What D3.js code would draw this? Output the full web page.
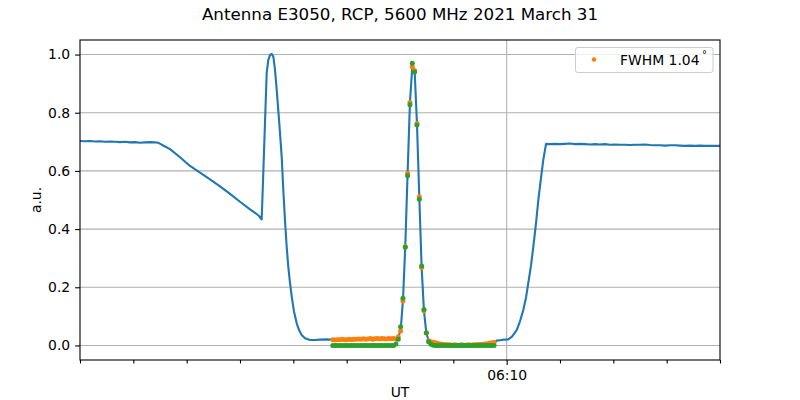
<!DOCTYPE html>
<html><head><meta charset="utf-8">
<script src="https://cdn.jsdelivr.net/npm/d3@7"></script>
<style>body{margin:0;background:#fff} text{font-family:"DejaVu Sans",sans-serif;fill:#000}</style>
</head><body><svg id="c" width="800" height="400"></svg>
<script>
const title = "Antenna E3050, RCP, 5600 MHz 2021 March 31";
const legendLabel = "FWHM 1.04";
const legendSup = "°";
const xLabel = "UT", yLabel = "a.u.";
const xDomain = ["06:02:00", "06:14:00"];
const yDomain = [-0.05, 1.05];
const yTicks = [0, 0.2, 0.4, 0.6, 0.8, 1.0];
const xMajorTicks = ["06:10:00"];
const xMinorTicks = ["06:02:00","06:03:00","06:04:00","06:05:00","06:06:00","06:07:00","06:08:00",
  "06:09:00","06:11:00","06:12:00","06:13:00","06:14:00"];

// blue line before the fitted window (seconds after 06:00:00, value)
const preT = [120,125.6,131.3,136.9,142.5,148.1,153.8,159.4,165,170.6,176.3,181.9,187.5,193.1,198.8,204.4,207.8,
  215.6,221.3,232.5,243.8,255,266.3,277.5,288.8,300,311.3,316.9,321.4,324.4,326.2,330,331.8,333.8,335.7,337.5,
  339.4,341.3,344.2,346.9,348.7,350.6,352.5,354.3,356.3,358.2,360.8,363.8,366.4,369.4,373.1,378.8,384.4,390,397.5,401.3];
const preV = [0.703,0.702,0.703,0.701,0.702,0.700,0.701,0.700,0.699,0.700,0.698,0.699,0.697,0.698,0.699,0.698,0.697,
  0.684,0.675,0.647,0.617,0.594,0.571,0.547,0.521,0.494,0.468,0.456,0.445,0.433,0.592,0.936,0.981,0.999,1.002,0.993,
  0.947,0.878,0.764,0.649,0.535,0.431,0.340,0.271,0.214,0.168,0.116,0.076,0.053,0.036,0.025,0.019,0.019,0.020,0.021,0.020];

// fitted window samples
const scatStart = 404.4, scatStep = 2.63;   // seconds after 06:00:00
const orangeV = [
  0.020,0.019,0.020,0.020,0.021,0.020,0.020,0.021,0.020,0.021,
  0.021,0.022,0.021,0.023,0.021,0.022,0.024,0.021,0.023,0.024,
  0.022,0.024,0.023,0.022,0.024,0.023,0.024,0.022,
  0.030,0.050,0.153,0.340,0.592,0.835,0.958,0.945,0.763,0.511,0.268,0.119,0.043,0.016,
  0.013,0.011,0.009,0.007,0.005,0.004,0.003,0.002,0.002,0.001,
  0.002,0.001,0.001,0.002,0.001,0.001,0.002,0.001,0.002,0.002,
  0.003,0.003,0.004,0.005,0.006,0.008,0.009,0.010];
const greenV = [
  0,0,0,0,0,0,0,0,0,0,
  0,0,0,0,0,0,0,0,0,0,
  0,0,0,0,0,0,0,0.005,
  0.021,0.064,0.162,0.338,0.583,0.827,0.970,0.940,0.758,0.503,0.273,0.124,0.044,0.013,
  0.004,0.001,0,0,0,0,0,0,0,0,
  0,0,0,0,0,0,0,0,0,0,
  0,0,0,0,0,0,0,0];

// blue line after the fitted window
const postT = [588.8,592.5,597,601.8,606,611.3,615,618.7,621.8,624.3,627.4,630,633,635.6,638.6,641.2,644.3,
  648.8,654.4,660,665.6,671.3,676.9,682.5,688.1,693.8,699.4,705,710.6,716.3,721.9,727.5,733.1,738.8,744.4,750,
  755.6,761.3,766.9,772.5,778.1,783.8,789.4,795,800.6,806.3,811.9,817.5,823.1,828.8,834.4,840];
const postV = [0.0165,0.018,0.020,0.021,0.030,0.053,0.083,0.122,0.165,0.214,0.275,0.340,0.420,0.500,0.575,0.638,0.693,
  0.692,0.693,0.692,0.693,0.694,0.692,0.693,0.692,0.691,0.692,0.691,0.692,0.690,0.691,0.690,0.690,0.689,0.690,0.690,
  0.691,0.689,0.688,0.688,0.687,0.688,0.688,0.687,0.686,0.687,0.686,0.687,0.686,0.686,0.686,0.686];

const base = Date.UTC(1900, 0, 1, 6, 0, 0);
const tsec = s => new Date(base + s * 1000);
const parse = d3.utcParse("%H:%M:%S");

const M = {l: 80, r: 720, t: 40, b: 360};
const svg = d3.select("#c");
const x = d3.scaleUtc().domain(xDomain.map(parse)).range([M.l, M.r]);
const y = d3.scaleLinear().domain(yDomain).range([M.b, M.t]);

const scat = orangeV.map((v, i) => ({t: tsec(scatStart + i * scatStep), o: v, g: greenV[i]}));
const blue = preT.map((t, i) => ({t: tsec(t), v: preV[i]}))
  .concat(scat.map(d => ({t: d.t, v: d.o})))
  .concat(postT.map((t, i) => ({t: tsec(t), v: postV[i]})));

// grid
const grid = svg.append("g");
grid.selectAll(".hg").data(yTicks).join("line")
  .attr("x1", M.l).attr("x2", M.r).attr("y1", d => y(d)).attr("y2", d => y(d))
  .attr("stroke", "#b0b0b0").attr("stroke-width", 1.1);
grid.selectAll(".vg").data(xMajorTicks).join("line")
  .attr("x1", d => x(parse(d))).attr("x2", d => x(parse(d))).attr("y1", M.t).attr("y2", M.b)
  .attr("stroke", "#b0b0b0").attr("stroke-width", 1.1);

// data
const clip = svg.append("clipPath").attr("id", "pc").append("rect")
  .attr("x", M.l).attr("y", M.t).attr("width", M.r - M.l).attr("height", M.b - M.t);
const plot = svg.append("g").attr("clip-path", "url(#pc)");
plot.append("path").datum(blue)
  .attr("d", d3.line().x(d => x(d.t)).y(d => y(d.v)))
  .attr("fill", "none").attr("stroke", "#1f77b4").attr("stroke-width", 2.1)
  .attr("stroke-linejoin", "round").attr("stroke-linecap", "square");
plot.selectAll(".o").data(scat).join("circle")
  .attr("cx", d => x(d.t)).attr("cy", d => y(d.o)).attr("r", 2.5).attr("fill", "#ff7f0e");
plot.selectAll(".g").data(scat).join("circle")
  .attr("cx", d => x(d.t)).attr("cy", d => y(d.g)).attr("r", 2.5).attr("fill", "#2ca02c");

// axes
const yAxis = svg.append("g").attr("transform", `translate(${M.l},0)`)
  .call(d3.axisLeft(y).tickValues(yTicks).tickFormat(d3.format(".1f")).tickSize(4.9).tickPadding(4.9));
const xMinor = svg.append("g").attr("transform", `translate(0,${M.b})`)
  .call(d3.axisBottom(x).tickValues(xMinorTicks.map(parse)).tickFormat("").tickSize(3.5));
const xMajor = svg.append("g").attr("transform", `translate(0,${M.b})`)
  .call(d3.axisBottom(x).tickValues(xMajorTicks.map(parse)).tickFormat(d3.utcFormat("%H:%M")).tickSize(4.9).tickPadding(4.9));
[yAxis, xMinor, xMajor].forEach(g => {
  g.select(".domain").remove();
  g.selectAll(".tick line").attr("stroke", "#000").attr("stroke-width", 1.1);
  g.selectAll("text").style("font-size", "13.9px").style("font-family", "DejaVu Sans");
});

// frame
svg.append("rect").attr("x", M.l).attr("y", M.t).attr("width", M.r - M.l).attr("height", M.b - M.t)
  .attr("fill", "none").attr("stroke", "#000").attr("stroke-width", 1.1);

// labels
svg.append("text").attr("x", 400).attr("y", 20).attr("text-anchor", "middle")
  .style("font-size", "16.7px").text(title);
svg.append("text").attr("x", 400).attr("y", 397).attr("text-anchor", "middle")
  .style("font-size", "13.9px").text(xLabel);
svg.append("text").attr("transform", "translate(41,200) rotate(-90)").attr("text-anchor", "middle")
  .style("font-size", "13.9px").text(yLabel);

// legend
const lg = svg.append("g");
lg.append("rect").attr("x", 575.5).attr("y", 47.5).attr("width", 137.5).attr("height", 25).attr("rx", 2.5)
  .attr("fill", "#fff").attr("fill-opacity", 0.8).attr("stroke", "#cccccc").attr("stroke-width", 1);
lg.append("circle").attr("cx", 594).attr("cy", 59.5).attr("r", 2.3).attr("fill", "#ff7f0e");
const lt = lg.append("text").attr("x", 620).attr("y", 64.5).style("font-size", "13.9px").text(legendLabel);
lg.append("text").attr("x", 702).attr("y", 58).style("font-size", "9.7px").text(legendSup);
</script></body></html>
